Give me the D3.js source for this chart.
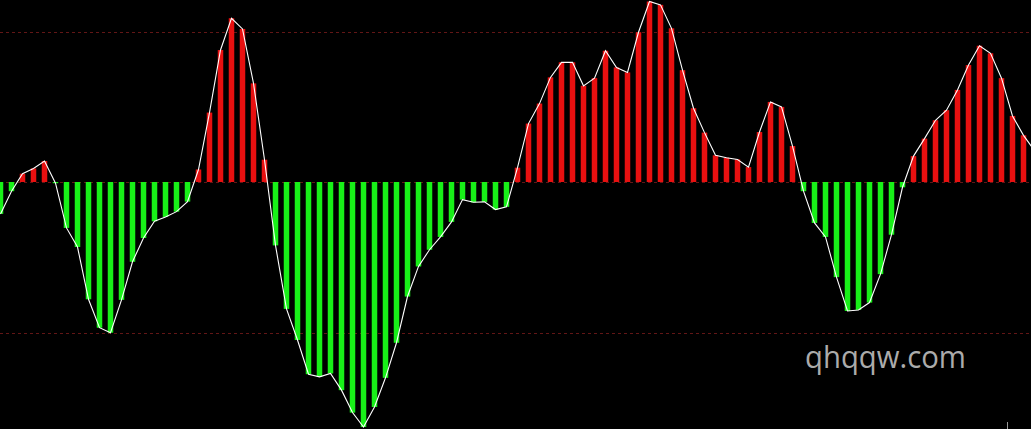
<!DOCTYPE html>
<html>
<head>
<meta charset="utf-8">
<script src="https://cdn.jsdelivr.net/npm/d3@7"></script>
<style>
html,body{margin:0;padding:0;background:#000;overflow:hidden;}
svg{display:block;}
</style>
</head>
<body>
<svg id="chart" width="1031" height="429"></svg>
<script>
// Oscillator values per bar (dashed guide lines sit at +100 / -100)
const barIndex = d3.range(95);
const values = [
  -21.2, -6.1, 5.5, 9.0, 13.9, -0.8, -30.5, -43.2, -77.9, -96.8,
  -100.1, -78.3, -53.0, -37.2, -26.1, -23.2, -19.7, -13.0, 8.3, 46.1,
  87.7, 108.8, 101.7, 65.5, 14.8, -42.1, -84.3, -105.0, -127.7, -129.5,
  -127.2, -138.3, -153.2, -162.8, -149.5, -130.1, -106.8, -76.1, -56.1, -45.0,
  -36.5, -26.5, -11.7, -13.5, -13.2, -18.3, -16.5, 9.5, 38.8, 52.1,
  69.5, 79.5, 79.5, 63.9, 69.0, 87.2, 76.1, 72.8, 99.5, 119.9,
  117.7, 102.1, 74.3, 49.0, 32.8, 17.7, 16.1, 15.0, 9.9, 33.2,
  53.2, 49.9, 23.9, -6.1, -27.2, -36.5, -63.2, -85.7, -85.0, -80.1,
  -61.2, -35.0, -3.5, 17.2, 28.8, 41.0, 47.7, 61.2, 77.7, 90.5,
  85.5, 69.0, 43.9, 31.0, 20.8
];
const guideLevels = [100, 0, -100];
const watermark = "qhqqw.com";

const W = 1031, H = 429;
const svg = d3.select("#chart");
svg.append("rect").attr("width", W).attr("height", H).attr("fill", "#000");

const x = d3.scaleLinear().domain([0, 94]).range([0.5, 1034.5]);
const y = d3.scaleLinear().domain([-100, 100]).range([332.5, 31.5]);
const barW = 5;

// guide lines
svg.append("g").selectAll("line").data(guideLevels).join("line")
  .attr("x1", 0).attr("x2", W)
  .attr("y1", d => Math.round(y(d)) + 0.5).attr("y2", d => Math.round(y(d)) + 0.5)
  .attr("stroke", "#621616").attr("stroke-width", 1)
  .attr("stroke-dasharray", "3,3");

const pos = "#e81010", neg = "#18f018";

// glow
svg.append("g").selectAll("rect").data(values).join("rect")
  .attr("x", (d, i) => x(i) - barW / 2 - 1)
  .attr("width", barW + 2)
  .attr("y", d => Math.min(y(d), y(0)))
  .attr("height", d => Math.abs(y(d) - y(0)))
  .attr("fill", d => d >= 0 ? pos : neg)
  .attr("opacity", 0.25);

svg.append("g").selectAll("rect").data(values).join("rect")
  .attr("x", (d, i) => x(i) - barW / 2)
  .attr("width", barW)
  .attr("y", d => Math.min(y(d), y(0)))
  .attr("height", d => Math.abs(y(d) - y(0)))
  .attr("fill", d => d >= 0 ? pos : neg);

const line = d3.line().x((d, i) => x(i)).y(d => y(d));
svg.append("path").datum(values)
  .attr("d", line)
  .attr("fill", "none")
  .attr("stroke", "#ffffff")
  .attr("stroke-width", 1.1);

svg.append("text")
  .attr("x", 805).attr("y", 368)
  .attr("font-family", "'Open Sans', 'DejaVu Sans', sans-serif")
  .attr("font-size", 31)
  .attr("textLength", 161)
  .attr("lengthAdjust", "spacingAndGlyphs")
  .attr("fill", "#ababab")
  .text(watermark);

svg.append("line")
  .attr("x1", 1007.5).attr("x2", 1007.5).attr("y1", 422).attr("y2", 429)
  .attr("stroke", "#9a9a9a").attr("stroke-width", 1);
</script>
</body>
</html>
